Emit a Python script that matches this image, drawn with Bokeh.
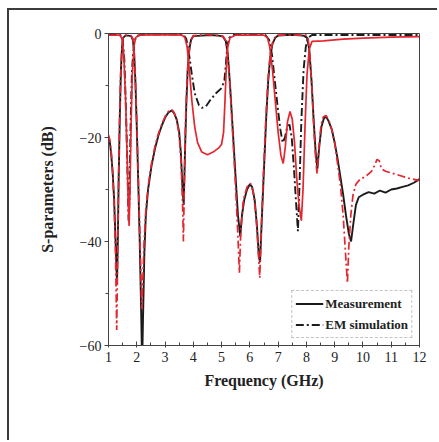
from bokeh.plotting import figure
from bokeh.models import Range1d, FixedTicker, Legend, LegendItem
from bokeh.embed import file_html
from bokeh.resources import INLINE

# ---- data ----
s21_meas_f = [1.0, 1.05, 1.1, 1.15, 1.2, 1.25, 1.3, 1.33, 1.36, 1.4, 1.44, 1.48, 1.52, 1.6, 1.7, 1.8, 1.86, 1.9, 1.95, 2.0,
              2.05, 2.1, 2.15, 2.19, 2.22, 2.27, 2.32, 2.4, 2.52, 2.65, 2.77, 2.9, 3.02, 3.12, 3.23, 3.32, 3.41, 3.5, 3.56,
              3.62, 3.66, 3.7, 3.75, 3.8, 3.86, 3.92, 4.0, 4.3, 4.6, 4.9, 5.05, 5.15, 5.22, 5.3, 5.4, 5.5, 5.58, 5.66,
              5.72, 5.8, 5.9, 6.0, 6.08, 6.17, 6.25, 6.32, 6.36, 6.42, 6.5, 6.58, 6.65, 6.72, 6.8, 6.9, 7.0, 7.3, 7.6,
              7.9, 8.02, 8.1, 8.18, 8.26, 8.33, 8.39, 8.45, 8.53, 8.62, 8.7, 8.78, 8.9, 9.0, 9.1, 9.2, 9.3, 9.4, 9.5,
              9.58, 9.65, 9.75, 9.85, 10.0, 10.2, 10.4, 10.6, 10.8, 11.0, 11.2, 11.4, 11.6, 11.8, 12.0]
s21_meas_db = [-19.8, -21, -23.5, -27, -32, -40, -48, -40, -28, -16, -7, -2.5, -0.8, -0.4, -0.4, -0.5, -1.2, -3, -9, -18,
               -28, -39, -52, -64, -55, -42, -35, -30, -25.5, -22, -19.5, -17.5, -16, -15.2, -14.8, -15.3, -16.5, -19, -23,
               -30, -33, -24, -14, -7, -3, -1.2, -0.5, -0.4, -0.3, -0.4, -0.6, -1.5, -4, -10, -19, -28, -35, -39,
               -35, -32, -30, -29, -29.5, -32, -37, -43, -44, -36, -26, -16, -9, -4.5, -2, -0.8, -0.4, -0.3, -0.3,
               -0.4, -0.8, -3, -9, -17, -23, -26, -22, -18, -16.3, -16, -16.8, -18.5, -21, -24, -27.5, -31, -35, -38.5,
               -40, -37, -33, -31.5, -31, -30.5, -30.8, -30.2, -30.6, -30, -29.8, -29.5, -29.2, -28.7, -28]

s21_sim_f = [1.0, 1.05, 1.1, 1.15, 1.2, 1.25, 1.29, 1.32, 1.35, 1.39, 1.43, 1.47, 1.52, 1.6, 1.8, 1.86, 1.9, 1.95, 2.0,
             2.05, 2.1, 2.15, 2.18, 2.21, 2.26, 2.32, 2.4, 2.52, 2.65, 2.77, 2.9, 3.02, 3.12, 3.23, 3.32, 3.41, 3.5, 3.57,
             3.62, 3.65, 3.68, 3.72, 3.77, 3.83, 3.9, 4.0, 4.5, 5.05, 5.15, 5.22, 5.3, 5.4, 5.5, 5.57, 5.63, 5.68, 5.77,
             5.9, 6.02, 6.12, 6.22, 6.3, 6.35, 6.4, 6.48, 6.56, 6.64, 6.72, 6.8, 6.9, 7.0, 8.0, 8.06, 8.12, 8.2, 8.27,
             8.34, 8.38, 8.44, 8.52, 8.6, 8.7, 8.8, 8.9, 9.0, 9.1, 9.2, 9.3, 9.38, 9.45, 9.5, 9.57, 9.65, 9.75, 9.9,
             10.1, 10.3, 10.4, 10.5, 10.58, 10.65, 10.8, 11.0, 11.3, 11.6, 12.0]
s21_sim_db = [-19.5, -20.5, -23, -27, -33, -43, -57, -45, -30, -17, -8, -3, -0.8, -0.3, -0.4, -1, -2.8, -8.5, -17,
              -27, -37, -47, -53, -48, -40, -34, -29.5, -25, -21.5, -19.2, -17.2, -15.8, -15, -14.6, -15.2, -16.5, -19.5, -25,
              -33, -40, -30, -18, -10, -4.5, -1.5, -0.4, -0.2, -0.5, -1.4, -4, -10.5, -20, -30, -38, -46, -38, -32,
              -29.5, -28.8, -30.5, -35, -42, -47, -38, -27, -17, -9, -4, -1.8, -0.6, -0.3, -0.3, -1, -4, -11, -19,
              -25, -27, -22, -17.5, -16, -15.8, -16.8, -18.5, -21, -25, -29, -35, -42, -48, -41, -35, -31, -29, -28,
              -27.5, -26.5, -25.5, -24.2, -24.5, -26, -26.5, -26.8, -27.3, -27.8, -28.3]

s11_meas_f = [1.0, 1.4, 1.48, 1.54, 1.6, 1.65, 1.7, 1.73, 1.76, 1.8, 1.84, 1.9, 1.96, 2.1, 3.0, 3.6, 3.7, 3.78, 3.86,
              3.95, 4.05, 4.15, 4.3, 4.5, 4.7, 4.9, 5.0, 5.07, 5.12, 5.17, 5.22, 5.3, 5.5, 6.5, 6.62, 6.7, 6.8, 6.9,
              7.0, 7.1, 7.18, 7.25, 7.33, 7.42, 7.5, 7.58, 7.66, 7.74, 7.82, 7.88, 7.95, 8.02, 8.1, 8.2, 8.6, 9.3,
              10.0, 11.0, 12.0]
s11_meas_db = [-0.3, -0.3, -1, -4, -12, -22, -33, -37, -30, -17, -8, -2.5, -0.8, -0.3, -0.2, -0.3, -0.8, -2.5, -7,
               -13, -18, -21, -22.8, -23.3, -22.8, -22, -21.3, -19, -13, -6, -2.5, -0.8, -0.3, -0.3, -0.8, -2.5, -7, -13,
               -19, -23.5, -25, -22, -17, -15, -16.5, -21, -28, -33, -36, -30, -18, -8, -3, -1.5, -1.4, -1.1,
               -0.9, -0.7, -0.6]

s11_sim_f = [1.0, 1.42, 1.5, 1.56, 1.62, 1.67, 1.71, 1.74, 1.78, 1.83, 1.9, 1.98, 2.2, 3.65, 3.75, 3.85, 3.95, 4.05,
             4.2, 4.3, 4.45, 4.6, 4.8, 5.0, 5.1, 5.15, 5.2, 5.27, 5.4, 6.55, 6.68, 6.78, 6.88, 6.98, 7.08, 7.16, 7.24,
             7.32, 7.4, 7.48, 7.56, 7.64, 7.7, 7.75, 7.82, 7.9, 7.98, 8.06, 8.2, 12.0]
s11_sim_db = [-0.2, -0.3, -1.2, -5, -15, -26, -36, -32, -18, -7, -2, -0.5, -0.2, -0.2, -1, -4, -8, -11.5,
              -13.8, -14.3, -14, -12.8, -11.5, -10.5, -9, -6, -2.5, -0.8, -0.3, -0.3, -1.2, -4, -9, -14, -18.5, -21, -20,
              -18, -17.5, -20, -26, -33, -38, -30, -17, -7, -2.5, -0.8, -0.3, -0.3]

x_ticks = [1, 2, 3, 4, 5, 6, 7, 8, 9, 10, 11, 12]
y_ticks = [-60, -40, -20, 0]

BLACK = "#1b1b1b"
RED = "#e3262f"
SERIF = "Liberation Serif"

p = figure(width=430, height=432, output_backend="svg", toolbar_location=None,
           x_range=Range1d(1, 12), y_range=Range1d(-60, 0),
           min_border_left=99, min_border_right=20, min_border_top=23, min_border_bottom=97)
p.styles = {"margin-left": "7px", "margin-top": "8px",
            "border-left": "2px solid #3c3c3c", "border-top": "2px solid #3c3c3c"}

p.grid.visible = False
p.outline_line_color = "#444444"
p.outline_line_width = 1

r_meas = p.line(s21_meas_f, s21_meas_db, line_color=BLACK, line_width=1.9)
r_sim = p.line(s11_sim_f, s11_sim_db, line_color=BLACK, line_width=1.9, line_dash="8 3 2 3")
p.line(s11_meas_f, s11_meas_db, line_color=RED, line_width=1.7)
p.line(s21_sim_f, s21_sim_db, line_color=RED, line_width=1.7, line_dash="8 3 2 3")

# axes
p.xaxis.ticker = FixedTicker(ticks=x_ticks, minor_ticks=[x + 0.5 for x in x_ticks[:-1]])
p.yaxis.ticker = FixedTicker(ticks=y_ticks, minor_ticks=[-50, -30, -10])
for ax in (p.xaxis[0], p.yaxis[0]):
    ax.axis_line_color = "#444444"
    ax.major_tick_line_color = "#444444"
    ax.minor_tick_line_color = "#444444"
    ax.major_label_text_font = SERIF
    ax.major_label_text_font_size = "14px"
    ax.major_label_text_color = "#222222"
    ax.axis_label_text_font = SERIF
    ax.axis_label_text_font_style = "bold"
    ax.axis_label_text_font_size = "16px"
    ax.axis_label_text_color = "#222222"

p.xaxis.major_tick_in = 4
p.xaxis.major_tick_out = 2
p.xaxis.minor_tick_in = 3
p.xaxis.minor_tick_out = 0
p.yaxis.major_tick_in = 0
p.yaxis.major_tick_out = 4
p.yaxis.minor_tick_in = 0
p.yaxis.minor_tick_out = 3
p.xaxis.major_label_standoff = 4
p.yaxis.major_label_standoff = 3
p.xaxis.axis_label = "Frequency (GHz)"
p.yaxis.axis_label = "S-parameters (dB)"
p.xaxis.axis_label_standoff = 7
p.yaxis.axis_label_standoff = 21

legend = Legend(items=[LegendItem(label="Measurement", renderers=[r_meas]),
                       LegendItem(label="EM simulation", renderers=[r_sim])],
                location="bottom_right")
legend.label_text_font = SERIF
legend.label_text_font_style = "bold"
legend.label_text_font_size = "13px"
legend.label_text_color = "#222222"
legend.border_line_color = "#888888"
legend.border_line_dash = "2 2"
legend.border_line_width = 1
legend.background_fill_alpha = 1
legend.margin = 7
legend.padding = 3
legend.spacing = 2
legend.label_height = 19
legend.glyph_height = 19
legend.glyph_width = 28
legend.label_standoff = 2
p.add_layout(legend)

open("out.html", "w").write(file_html(p, INLINE))
